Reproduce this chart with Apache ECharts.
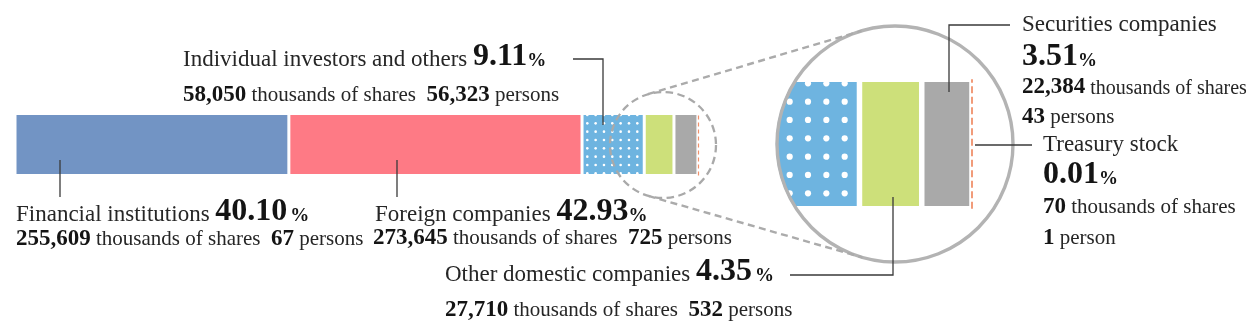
<!DOCTYPE html>
<html>
<head>
<meta charset="utf-8">
<script src="https://cdn.jsdelivr.net/npm/echarts@6/dist/echarts.min.js"></script>
<style>
  html, body { margin: 0; padding: 0; background: #ffffff; }
  #chart { width: 1253px; height: 328px; }
</style>
</head>
<body>
<div id="chart"></div>
<script>
// Shareholder composition
const categories = [
  'Financial institutions',
  'Foreign companies',
  'Individual investors and others',
  'Other domestic companies',
  'Securities companies',
  'Treasury stock'
];
const percents = [40.10, 42.93, 9.11, 4.35, 3.51, 0.01];      // % of shares
const shares   = [255609, 273645, 58050, 27710, 22384, 70];   // thousands of shares
const persons  = [67, 725, 56323, 532, 43, 1];                // number of holders

const colors = ['#7294c4', '#fe7a85', '#6eb4e0', '#cde07a', '#a9a9a9', '#f0916c'];

// ---------- helpers ----------
const total = percents.reduce((a, b) => a + b, 0);
const fmtN = n => n.toLocaleString('en-US');
const fmtP = p => p.toFixed(2);
const personWord = n => (n === 1 ? ' person' : ' persons');

// white-dot pattern; spacing s, dots aligned to absolute canvas position (ox, oy)
function dotPattern(n, s, ox, oy, r, bg) {
  const T = Math.round(n * s);
  const step = T / n;
  const c = document.createElement('canvas');
  c.width = T; c.height = T;
  const g = c.getContext('2d');
  g.fillStyle = bg;
  g.fillRect(0, 0, T, T);
  g.fillStyle = '#ffffff';
  const bx = ((ox % T) + T) % T, by = ((oy % T) + T) % T;
  for (let i = 0; i < n; i++) {
    for (let j = 0; j < n; j++) {
      const x = (bx + i * step) % T, y = (by + j * step) % T;
      for (let dx = -T; dx <= T; dx += T) {
        for (let dy = -T; dy <= T; dy += T) {
          g.beginPath();
          g.arc(x + dx, y + dy, r, 0, Math.PI * 2);
          g.fill();
        }
      }
    }
  }
  return { image: c, repeat: 'repeat' };
}

const mainFills = colors.slice();
mainFills[2] = dotPattern(3, 8.33, 587.3, 115, 1.3, colors[2]);
const zoomFills = colors.slice();
zoomFills[2] = dotPattern(3, 18.33, 808, 83.3, 3.1, colors[2]);

// ---------- series ----------
function buildSeries(stack, axis, fills, border, dash, dashWidth) {
  return categories.map((name, i) => {
    const last = i === categories.length - 1;
    const s = {
      name: name,
      type: 'bar',
      stack: stack,
      xAxisIndex: axis,
      yAxisIndex: axis,
      barWidth: '100%',
      silent: true,
      animation: false,
      z: 2,
      data: [percents[i]],
      itemStyle: last
        ? { color: 'rgba(0,0,0,0)', borderWidth: 0 }
        : { color: fills[i], borderColor: '#ffffff', borderWidth: border }
    };
    if (last) {
      // the tiny treasury slice is marked by a dashed rule at its position
      s.markLine = {
        silent: true,
        animation: false,
        symbol: ['none', 'none'],
        label: { show: false },
        lineStyle: { color: colors[i], type: dash, width: dashWidth },
        data: [{ xAxis: total }]
      };
    }
    return s;
  });
}

const series = buildSeries('main', 0, mainFills, 1.5, [4, 3], 1.2)
  .concat(buildSeries('zoom', 1, zoomFills, 2.75, [7, 3.5], 1.8));

// ---------- decorations & labels ----------
const FONT = '"Liberation Serif","Times New Roman",Times,serif';
const INK = '#262626', INK_B = '#141414';
const K = 10;
function tok(fs, bold, padL) {
  const s = {
    fontFamily: FONT, fontSize: fs, fontWeight: bold ? 'bold' : 'normal',
    fill: bold ? INK_B : INK, verticalAlign: 'bottom', height: 0.675 * fs + K
  };
  if (padL) s.padding = [0, 0, 0, padL];
  return s;
}
const rich = {
  r: tok(23, false),
  n: tok(32, true),
  p: tok(19, true),
  pw: tok(19, true, 3),
  b: tok(23, true),
  s: tok(21, false),
  t: tok(20, false)
};
function textLine(x, baseline, text) {
  return {
    type: 'text', x: x, y: baseline + K / 2, silent: true, z: 60,
    style: { text: text, rich: rich, verticalAlign: 'bottom', align: 'left' }
  };
}
const titleLine = (i, pctTag) =>
  `{r|${categories[i]} }{n|${fmtP(percents[i])}}{${pctTag}|%}`;
const detailLine = i =>
  `{b|${fmtN(shares[i])}}{s| thousands of shares  }{b|${fmtN(persons[i])}}{s|${personWord(persons[i])}}`;

const labels = [
  textLine(16, 222.5, titleLine(0, 'pw')),
  textLine(16, 246.5, detailLine(0)),
  textLine(375, 222.5, titleLine(1, 'p')),
  textLine(373, 246, detailLine(1)),
  textLine(183, 68, titleLine(2, 'p')),
  textLine(183, 103, detailLine(2)),
  textLine(445, 283, titleLine(3, 'pw')),
  textLine(445, 318, detailLine(3)),
  textLine(1022, 33, `{r|${categories[4]}}`),
  textLine(1022, 68, `{n|${fmtP(percents[4])}}{p|%}`),
  textLine(1022, 95, `{b|${fmtN(shares[4])}}{t| thousands of shares}`),
  textLine(1022, 125, `{b|${fmtN(persons[4])}}{s|${personWord(persons[4])}}`),
  textLine(1043, 153, `{r|${categories[5]}}`),
  textLine(1043, 186, `{n|${fmtP(percents[5])}}{p|%}`),
  textLine(1043, 215, `{b|${fmtN(shares[5])}}{s| thousands of shares}`),
  textLine(1043, 246, `{b|${fmtN(persons[5])}}{s|${personWord(persons[5])}}`)
];

const leader = pts => ({
  type: 'polyline', silent: true, z: 50,
  shape: { points: pts },
  style: { fill: 'none', stroke: '#3a3a3a', lineWidth: 1.3 }
});
const leaders = [
  leader([[60, 160], [60, 197]]),
  leader([[397, 160], [397, 197]]),
  leader([[573, 59], [603, 59], [603, 125]]),
  leader([[949, 92], [949, 25], [1010, 25]]),
  leader([[975, 145], [1032, 145]]),
  leader([[893, 197], [893, 275], [790, 275]])
];

// magnifier: small dashed circle on the bar, large circle with the enlarged view
const small = { cx: 663, cy: 145, r: 53 };
const big = { cx: 895, cy: 144, r: 118 };
function tangents(a, b) {
  const dx = b.cx - a.cx, dy = b.cy - a.cy;
  const d = Math.hypot(dx, dy);
  const ux = dx / d, uy = dy / d;
  const cosT = (a.r - b.r) / d, sinT = Math.sqrt(1 - cosT * cosT);
  const out = [];
  [1, -1].forEach(sg => {
    const nx = ux * cosT - sg * uy * sinT;
    const ny = uy * cosT + sg * ux * sinT;
    out.push([[a.cx + a.r * nx, a.cy + a.r * ny], [b.cx + b.r * nx, b.cy + b.r * ny]]);
  });
  return out;
}
const tangentLines = tangents(small, big).map(seg => ({
  type: 'line', silent: true, z: 40,
  shape: { x1: seg[0][0], y1: seg[0][1], x2: seg[1][0], y2: seg[1][1] },
  style: { stroke: '#ababab', lineWidth: 2.4, lineDash: [7, 4.5] }
}));

const decorations = [
  // white ring hides the enlarged bars outside the lens
  { type: 'ring', silent: true, z: 30,
    shape: { cx: big.cx, cy: big.cy, r: big.r + 40, r0: big.r + 1.2 },
    style: { fill: '#ffffff' } },
  { type: 'circle', silent: true, z: 40,
    shape: { cx: big.cx, cy: big.cy, r: big.r },
    style: { fill: 'none', stroke: '#b3b3b3', lineWidth: 3.4 } },
  { type: 'circle', silent: true, z: 40,
    shape: { cx: small.cx, cy: small.cy, r: small.r },
    style: { fill: 'none', stroke: '#a9a9a9', lineWidth: 2.3, lineDash: [7.5, 4.5] } }
].concat(tangentLines);

// ---------- chart ----------
const chart = echarts.init(document.getElementById('chart'), null, { renderer: 'canvas' });
chart.setOption({
  animation: false,
  backgroundColor: '#ffffff',
  grid: [
    { left: 15, top: 113.5, width: 683, height: 62 },
    { left: 771.6, top: 79.25, width: 229, height: 129.5 }
  ],
  xAxis: [
    { gridIndex: 0, type: 'value', min: 0, max: total, show: false },
    { gridIndex: 1, type: 'value', min: 86, max: 102, show: false }
  ],
  yAxis: [
    { gridIndex: 0, type: 'category', data: ['shares'], show: false },
    { gridIndex: 1, type: 'category', data: ['shares'], show: false }
  ],
  series: series,
  graphic: {
    elements: decorations.concat(leaders, labels)
  }
});
</script>
</body>
</html>
